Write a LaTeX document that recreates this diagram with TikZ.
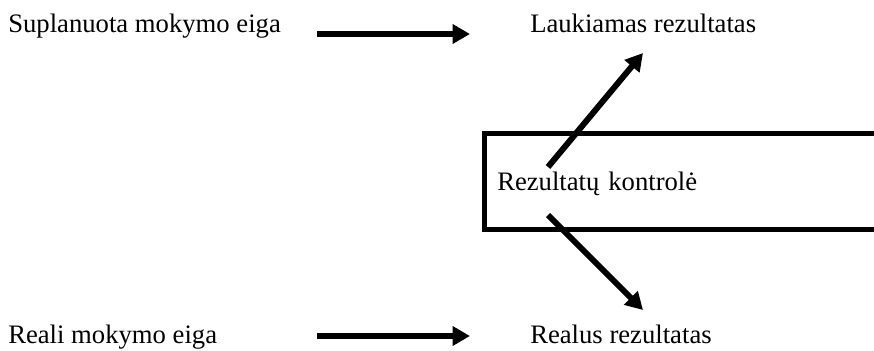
\documentclass[tikz,border=0pt]{standalone}
\usepackage{fontspec}
\setmainfont{Liberation Serif}
\usetikzlibrary{arrows.meta}

\begin{document}
\begin{tikzpicture}[
    x=0.75pt, y=-0.75pt,
    label/.style={anchor=base west, inner sep=0pt, font=\fontsize{20}{24}\selectfont},
    box/.style={draw=black, line width=3.4pt, anchor=north west,
        minimum height=72pt, text width=325pt, align=left,
        inner xsep=9.75pt, text depth=0pt, font=\fontsize{20}{24}\selectfont},
    flow/.style={line width=4.5pt, -{Triangle[length=13pt, width=14pt]}}
]
    \useasboundingbox (0,0) rectangle (874,350);
    \clip (0,0) rectangle (874,350);
    \node[label] (plan) at (8,32) {Suplanuota mokymo eiga};
    \node[label] (expect) at (530,32) {Laukiamas rezultatas};
    \node[label] (real) at (8,343) {Reali mokymo eiga};
    \node[label] (actual) at (530,343) {Realus rezultatas};
    \node[box] (ctrl) at (482,131) {Rezultatų kontrolė};
    \coordinate (planout) at (317,34);
    \coordinate (expectin) at (470,34);
    \coordinate (realout) at (317,336);
    \coordinate (actualin) at (470,336);
    \coordinate (ctrlup) at (548,167);
    \coordinate (ctrldown) at (548,215);
    \coordinate (expectdown) at (643,53);
    \coordinate (actualup) at (643,310);
    \draw[flow] (planout) -- (expectin);
    \draw[flow] (realout) -- (actualin);
    \draw[flow] (ctrlup) -- (expectdown);
    \draw[flow] (ctrldown) -- (actualup);
\end{tikzpicture}
\end{document}
